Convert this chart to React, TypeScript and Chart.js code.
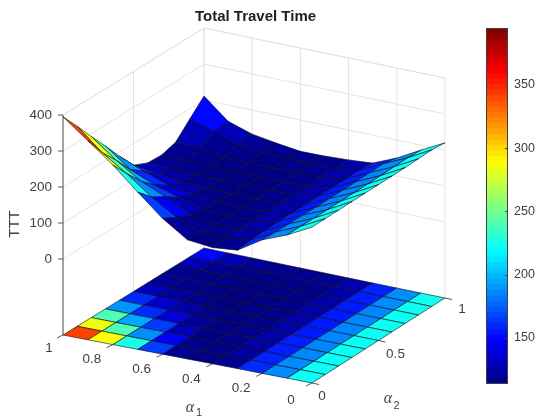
import React, { useEffect, useRef } from "react";
import { Chart, registerables } from "chart.js";

Chart.register(...registerables);

// TTT value per alpha_1 row (0.0 ... 1.0), each listing alpha_2 = 0.0 ... 1.0
const row00 = [222, 222, 222, 222, 222, 222, 222, 222, 223, 224, 220];
const row01 = [187, 187, 186, 186, 186, 186, 186, 186, 187, 188, 186];
const row02 = [160, 158, 157, 157, 156, 156, 156, 156, 157, 158, 150];
const row03 = [118, 122, 124, 125, 125, 125, 125, 125, 125, 126, 122];
const row04 = [112, 116, 116, 116, 116, 116, 116, 116, 117, 118, 117];
const row05 = [120, 117, 115, 114, 114, 114, 114, 115, 116, 118, 114];
const row06 = [166, 145, 128, 120, 116, 114, 114, 114, 115, 118, 113];
const row07 = [226, 188, 165, 138, 124, 117, 115, 115, 116, 120, 122];
const row08 = [288, 240, 195, 160, 135, 122, 117, 116, 118, 128, 133];
const row09 = [342, 285, 240, 190, 160, 130, 120, 118, 128, 150, 155];
const row10 = [395, 345, 292, 242, 189, 140, 122, 120, 132, 172, 211];
const TTT = [row00, row01, row02, row03, row04, row05, row06, row07, row08, row09, row10];

const alphaSteps = [0, 0.1, 0.2, 0.3, 0.4, 0.5, 0.6, 0.7, 0.8, 0.9, 1];
const alpha1Ticks = [1, 0.8, 0.6, 0.4, 0.2, 0];
const alpha2Ticks = [0, 0.5, 1];
const zTicks = [0, 100, 200, 300, 400];
const colorbarTicks = [150, 200, 250, 300, 350];
const colorMin = 113.5;
const colorMax = 395;

// view projection: floor corners, named by (alpha_1, alpha_2)
const cornerL = { x: 63, y: 335 }; // (1,0)
const cornerF = { x: 312, y: 383 }; // (0,0)
const cornerR = { x: 445, y: 298 }; // (0,1)
const cornerB = { x: 204, y: 248 }; // (1,1)
const zFloor = -211;
const zTop = 400;
const zPx = 0.36;

function floorPt(a1: number, a2: number) {
  const x =
    cornerF.x * (1 - a1) * (1 - a2) + cornerR.x * (1 - a1) * a2 + cornerL.x * a1 * (1 - a2) + cornerB.x * a1 * a2;
  const y =
    cornerF.y * (1 - a1) * (1 - a2) + cornerR.y * (1 - a1) * a2 + cornerL.y * a1 * (1 - a2) + cornerB.y * a1 * a2;
  return { x, y };
}
function project(a1: number, a2: number, z: number) {
  const p = floorPt(a1, a2);
  return { x: p.x, y: p.y - (z - zFloor) * zPx };
}

function jet(t: number) {
  const c = (v: number) => Math.round(255 * Math.max(0, Math.min(1, v)));
  const r = 1.5 - Math.abs(4 * t - 3);
  const g = 1.5 - Math.abs(4 * t - 2);
  const b = 1.5 - Math.abs(4 * t - 1);
  return `rgb(${c(r)},${c(g)},${c(b)})`;
}
const colorOf = (v: number) => jet(Math.max(0, Math.min(1, (v - colorMin) / (colorMax - colorMin))));

const lineSet = (pts: { x: number; y: number }[], color: string, width: number) => ({
  data: pts,
  showLine: true,
  pointRadius: 0,
  borderColor: color,
  borderWidth: width,
  tension: 0,
  fill: false,
});
const faceSet = (pts: { x: number; y: number }[], color: string) => ({
  data: [...pts, pts[0]],
  showLine: true,
  pointRadius: 0,
  borderColor: "rgba(10,10,25,0.85)",
  borderWidth: 0.7,
  backgroundColor: color,
  tension: 0,
  fill: "shape",
});

function buildDatasets() {
  const out: any[] = [];
  const grid = "#e4e4e4";
  // back walls
  for (const z of zTicks) {
    out.push(lineSet([project(1, 0, z), project(1, 1, z), project(0, 1, z)], grid, 1));
  }
  for (const a of alpha1Ticks) {
    out.push(lineSet([project(a, 1, zFloor), project(a, 1, zTop)], grid, 1));
  }
  for (const a of alpha2Ticks) {
    out.push(lineSet([project(1, a, zFloor), project(1, a, zTop)], grid, 1));
  }
  out.push(lineSet([project(1, 0, zTop), project(1, 1, zTop), project(0, 1, zTop)], grid, 1));
  // axis lines and ticks
  const axis = "#555555";
  out.push(lineSet([project(1, 0, zFloor), project(1, 0, zTop)], axis, 1));
  for (const z of zTicks) {
    const p = project(1, 0, z);
    out.push(lineSet([p, { x: p.x - 5, y: p.y }], axis, 1));
  }
  for (const a of alpha1Ticks) {
    const p = floorPt(a, 0);
    out.push(lineSet([p, { x: p.x - 6, y: p.y + 3 }], axis, 1));
  }
  for (const a of alpha2Ticks) {
    const p = floorPt(0, a);
    out.push(lineSet([p, { x: p.x + 7, y: p.y + 1.5 }], axis, 1));
  }
  // floor map, far cells first
  const n = alphaSteps.length - 1;
  const cells: { i: number; j: number }[] = [];
  for (let i = 0; i < n; i++) for (let j = 0; j < n; j++) cells.push({ i, j });
  cells.sort((p, q) => q.i + q.j - (p.i + p.j));
  for (const { i, j } of cells) {
    const a0 = alphaSteps[i];
    const a1 = alphaSteps[i + 1];
    const b0 = alphaSteps[j];
    const b1 = alphaSteps[j + 1];
    out.push(faceSet([floorPt(a0, b0), floorPt(a1, b0), floorPt(a1, b1), floorPt(a0, b1)], colorOf(TTT[i][j])));
  }
  // surface, far faces first
  for (const { i, j } of cells) {
    const a0 = alphaSteps[i];
    const a1 = alphaSteps[i + 1];
    const b0 = alphaSteps[j];
    const b1 = alphaSteps[j + 1];
    out.push(
      faceSet(
        [
          project(a0, b0, TTT[i][j]),
          project(a1, b0, TTT[i + 1][j]),
          project(a1, b1, TTT[i + 1][j + 1]),
          project(a0, b1, TTT[i][j + 1]),
        ],
        colorOf(TTT[i][j])
      )
    );
  }
  return out.reverse(); // Chart.js paints the first dataset last
}

const textPlugin = {
  id: "labels3d",
  afterDraw(chart: any) {
    const ctx = chart.ctx;
    const sx = chart.scales.x;
    const sy = chart.scales.y;
    const put = (t: string, x: number, y: number, font: string) => {
      ctx.font = font;
      ctx.fillText(t, sx.getPixelForValue(x), sy.getPixelForValue(y));
    };
    ctx.save();
    ctx.textBaseline = "middle";
    ctx.textAlign = "center";
    ctx.fillStyle = "#1f1f1f";
    put("Total Travel Time", 255.5, 17, 'bold 15px "Liberation Sans"');
    ctx.fillStyle = "#404040";
    const tickFont = '13.5px "Liberation Sans"';
    ctx.textAlign = "right";
    for (const z of zTicks) {
      const p = project(1, 0, z);
      put(String(z), p.x - 11, p.y, tickFont);
    }
    ctx.textAlign = "center";
    for (const a of alpha1Ticks) {
      const p = floorPt(a, 0);
      put(String(a), p.x + (a === 1 ? -14 : -21), p.y + (a === 1 ? 13 : a === 0 ? 17 : 15), tickFont);
    }
    for (const a of alpha2Ticks) {
      const p = floorPt(0, a);
      put(String(a), p.x + (a === 0 ? 10 : 17), p.y + (a === 1 ? 11 : 13.5), tickFont);
    }
    // axis titles
    put("\u03b1", 190, 408, 'italic 16px "Liberation Serif"');
    put("1", 199, 413, '11px "Liberation Sans"');
    put("\u03b1", 388, 399, 'italic 16px "Liberation Serif"');
    put("2", 396.5, 406, '11px "Liberation Sans"');
    ctx.translate(sx.getPixelForValue(14.5), sy.getPixelForValue(224));
    ctx.rotate(-Math.PI / 2);
    ctx.font = '15px "Liberation Sans"';
    ctx.fillText("TTT", 0, 0);
    ctx.restore();
  },
};

const colorbarTickPlugin = {
  id: "cbTicks",
  afterDraw(chart: any) {
    const { ctx, chartArea, scales } = chart;
    ctx.save();
    ctx.strokeStyle = "#404040";
    ctx.lineWidth = 1;
    ctx.strokeRect(chartArea.left + 0.5, chartArea.top + 0.5, chartArea.width - 1, chartArea.height - 1);
    for (const v of colorbarTicks) {
      const y = Math.round(scales.y.getPixelForValue(v)) + 0.5;
      ctx.beginPath();
      ctx.moveTo(chartArea.right - 3, y);
      ctx.lineTo(chartArea.right, y);
      ctx.stroke();
    }
    ctx.restore();
  },
};

export default function App() {
  const mainRef = useRef<HTMLCanvasElement>(null);
  const barRef = useRef<HTMLCanvasElement>(null);

  useEffect(() => {
    const main = new Chart(mainRef.current as HTMLCanvasElement, {
      type: "scatter",
      data: { datasets: buildDatasets() },
      plugins: [textPlugin],
      options: {
        animation: false,
        responsive: false,
        events: [],
        layout: { padding: 0 },
        scales: {
          x: { type: "linear", min: 0, max: 536, display: false },
          y: { type: "linear", min: 0, max: 417, reverse: true, display: false },
        },
        plugins: {
          legend: { display: false },
          tooltip: { enabled: false },
          filler: { drawTime: "beforeDatasetDraw", propagate: false },
        },
      } as any,
    });

    const levels = Array.from({ length: 64 }, (_, k) => k);
    const step = (colorMax - colorMin) / levels.length;
    const bar = new Chart(barRef.current as HTMLCanvasElement, {
      type: "bar",
      data: {
        labels: [""],
        datasets: levels.map((k) => ({
          data: [[colorMin + k * step, colorMin + (k + 1.15) * step]],
          backgroundColor: jet((k + 0.5) / levels.length),
          borderWidth: 0,
          grouped: false,
          barPercentage: 1,
          categoryPercentage: 1,
          order: 64 - k,
        })),
      } as any,
      plugins: [colorbarTickPlugin],
      options: {
        animation: false,
        responsive: false,
        events: [],
        layout: { padding: { left: 486, top: 28, bottom: 33, right: 0 } },
        scales: {
          x: { display: false },
          y: {
            position: "right",
            min: colorMin,
            max: colorMax,
            grid: { display: false, drawTicks: false },
            border: { display: false },
            afterBuildTicks: (s: any) => {
              s.ticks = colorbarTicks.map((value) => ({ value }));
            },
            afterFit: (s: any) => {
              s.width = 28;
            },
            ticks: {
              padding: 6,
              color: "#404040",
              font: { family: '"Liberation Sans"', size: 12.5 },
            },
          },
        },
        plugins: { legend: { display: false }, tooltip: { enabled: false } },
      } as any,
    });

    return () => {
      main.destroy();
      bar.destroy();
    };
  }, []);

  const abs: React.CSSProperties = { position: "absolute", left: 0, top: 0, display: "block" };
  return (
    <div style={{ position: "fixed", left: 0, top: 0, width: 536, height: 417, background: "#fff" }}>
      <canvas ref={mainRef} width={536} height={417} style={abs} />
      <canvas ref={barRef} width={536} height={417} style={abs} />
    </div>
  );
}
